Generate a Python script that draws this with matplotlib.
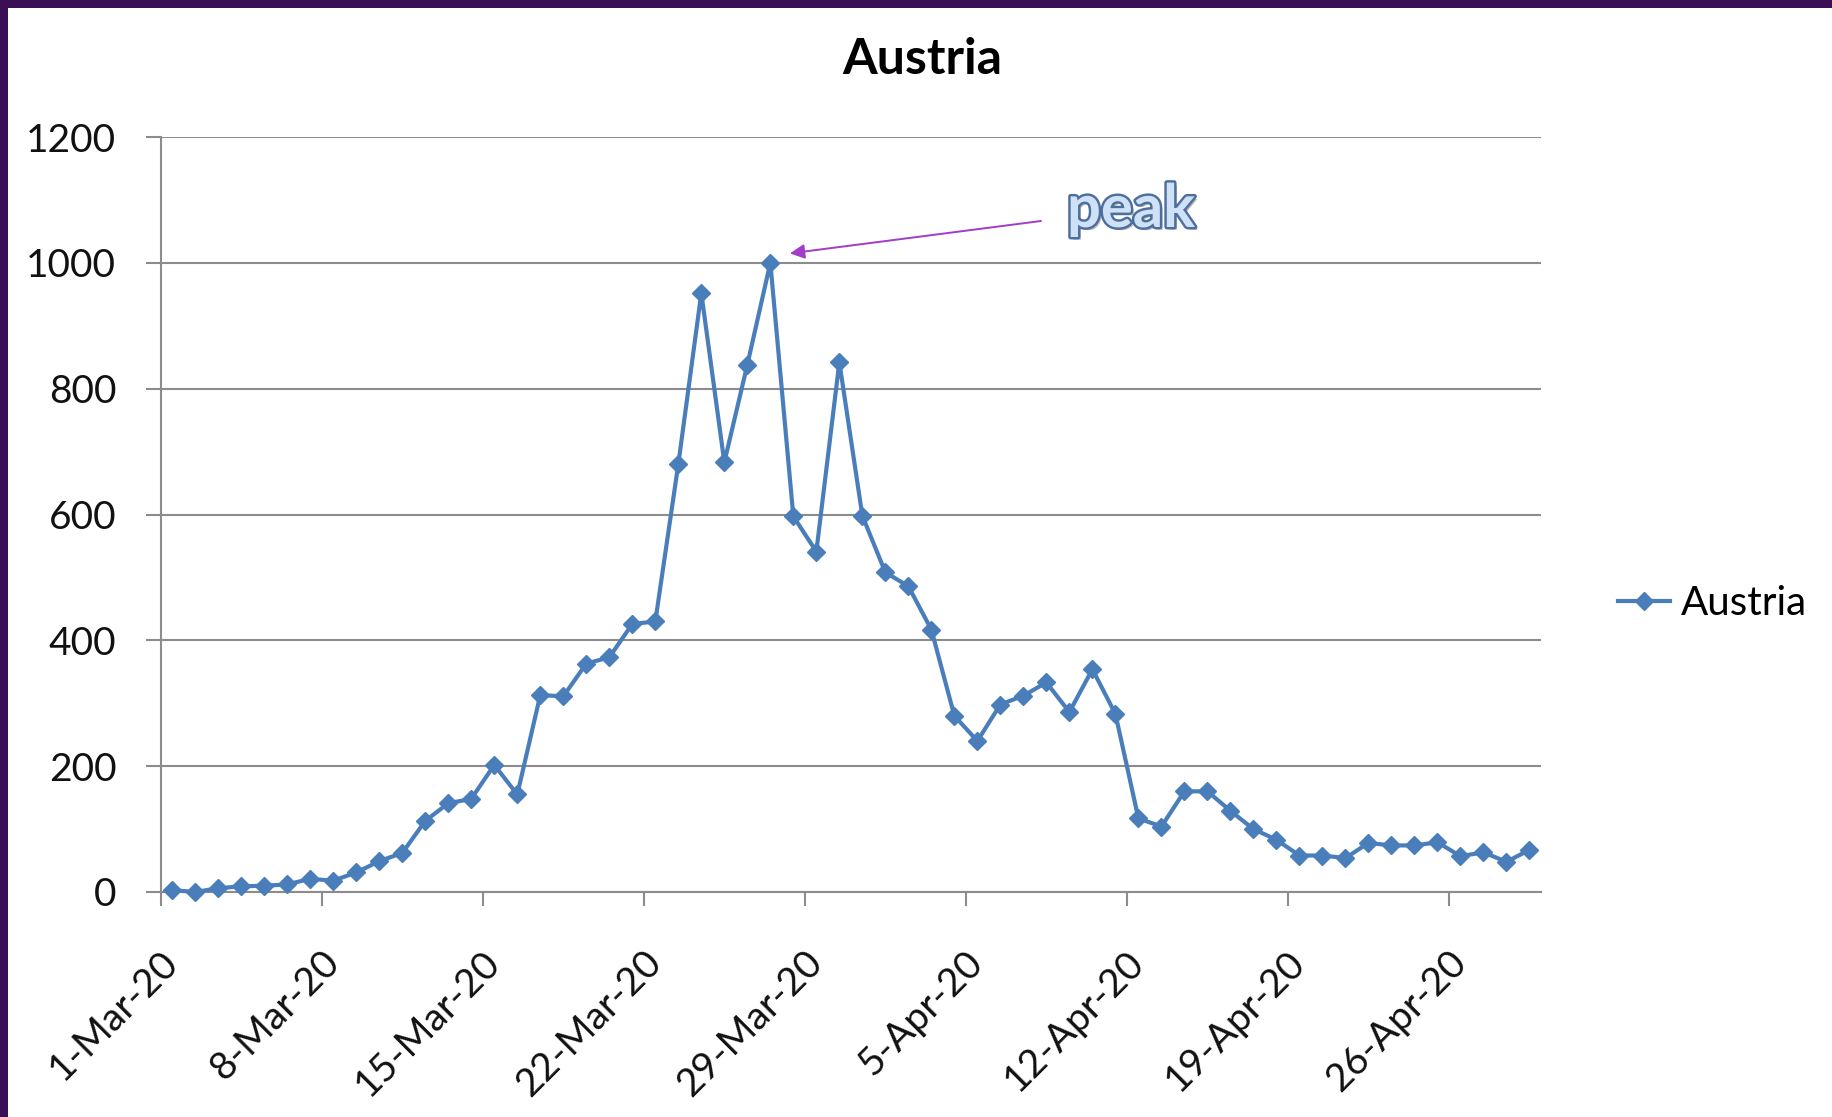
import matplotlib
matplotlib.use("Agg")
import matplotlib.pyplot as plt
import matplotlib.patheffects as pe
from matplotlib.patches import Rectangle

## data, one value per day 1-Mar-20 .. 29-Apr-20
march = [3, 0, 6, 9, 10, 12, 21, 18, 31, 49, 62, 113, 141, 148, 202, 155,
         313, 311, 363, 373, 426, 430, 680, 952, 683, 838, 1000, 597, 541,
         842, 598]
april = [508, 486, 417, 280, 240, 298, 312, 333, 286, 354, 283, 117, 104,
         160, 160, 129, 100, 83, 58, 58, 54, 78, 74, 74, 79, 57, 63, 48, 67]
days = [f"{d}-Mar-20" for d in range(1, 32)] + [f"{d}-Apr-20" for d in range(1, 30)]
values = march + april

tick_labels = ["1-Mar-20", "8-Mar-20", "15-Mar-20", "22-Mar-20", "29-Mar-20",
               "5-Apr-20", "12-Apr-20", "19-Apr-20", "26-Apr-20"]
y_ticks = [0, 200, 400, 600, 800, 1000, 1200]
series_name = "Austria"
peak_label = "peak"

W, H = 1832, 1117
FONT = "Lato"
BLUE = "#4a7ebb"
GRID = "#8c8c8c"

fig = plt.figure(figsize=(W / 100, H / 100), dpi=100)
fig.patch.set_facecolor("#3a0f56")
# white slide area, behind the axes
fig.patches.append(Rectangle((8 / W, 0), 1, 1 - 8 / H, transform=fig.transFigure,
                             facecolor="white", edgecolor="none", zorder=-10))

left, right, bottom, top = 160.7, 1541, 892, 137
ax = fig.add_axes([left / W, 1 - bottom / H, (right - left) / W, (bottom - top) / H])
ax.set_facecolor("white")

x = list(range(len(values)))
ax.plot(x, values, color=BLUE, lw=3.0, marker="D", markersize=9.5,
        markerfacecolor=BLUE, markeredgecolor=BLUE, label=series_name, zorder=3,
        clip_on=False)

ax.set_xlim(-0.5, len(values) - 0.5)
ax.set_ylim(0, 1200)

## y axis
ax.set_yticks(y_ticks)
ax.set_yticklabels([str(v) for v in y_ticks], fontsize=28, fontfamily=FONT, color="#111111")
ax.tick_params(axis="y", length=11, width=1.5, color=GRID, pad=21)
ax.yaxis.grid(True, color=GRID, lw=1.5)
ax.set_axisbelow(True)

## x axis: tick marks between categories, labels on the category
label_pos = [days.index(t) for t in tick_labels]
ax.set_xticks([p - 0.5 for p in label_pos])
ax.set_xticklabels([])
ax.tick_params(axis="x", which="major", length=10, width=1.5, color=GRID)
ax.set_xticks(label_pos, minor=True)
ax.set_xticklabels(tick_labels, minor=True, fontsize=28, fontfamily=FONT, color="#111111")
ax.tick_params(axis="x", which="minor", length=0, pad=47)
plt.setp(ax.get_xticklabels(minor=True), rotation=45, ha="right", va="center",
         rotation_mode="anchor")

for s in ["top", "right"]:
    ax.spines[s].set_visible(False)
for s in ["left", "bottom"]:
    ax.spines[s].set_color(GRID)
    ax.spines[s].set_linewidth(1.5)

## title
fig.text(922 / W, 1 - 59 / H, series_name, ha="center", va="center",
         fontsize=36, fontweight="bold", fontfamily=FONT, color="black")

## legend
fig.legend(loc="center left", bbox_to_anchor=(1618 / W, 1 - 604 / H), frameon=False,
           prop={"family": FONT, "size": 29}, handlelength=1.3, handletextpad=0.25,
           borderpad=0, borderaxespad=0)

## peak annotation
peak_i = values.index(max(values))
ax.annotate("", xy=(peak_i + 0.85, max(values) + 15), xycoords="data",
            xytext=(1041 / W, 1 - 221 / H), textcoords="figure fraction",
            arrowprops=dict(arrowstyle="-|>", color="#a33cc8", lw=1.4,
                            mutation_scale=22, shrinkA=0, shrinkB=0))
fig.text(1131 / W, 1 - 210 / H, peak_label, ha="center", va="center",
         fontsize=43, fontweight="bold", fontfamily=FONT, color="#cfe1f6",
         path_effects=[pe.SimplePatchShadow(offset=(2, -2), shadow_rgbFace="#8a8a8a", alpha=0.6),
                       pe.Stroke(linewidth=3.5, foreground="#4e6f9c"), pe.Normal()])

plt.savefig("out.png", dpi=100, facecolor=fig.get_facecolor())
